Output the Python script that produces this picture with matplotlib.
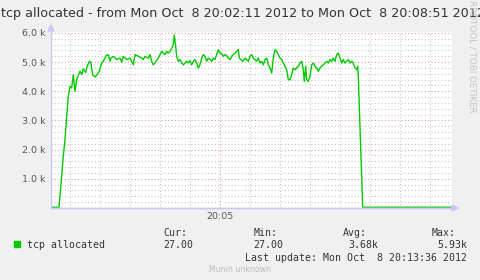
import matplotlib
matplotlib.use("Agg")
import matplotlib.pyplot as plt
from matplotlib.ticker import FixedLocator, MultipleLocator, FuncFormatter

# seconds since 20:02:11
t = [0, 8, 10.7, 12.3, 14, 15.7, 17.3, 19, 20.7, 22.3, 24, 25.7, 29, 30.7, 32.3, 34.7,
     36.3, 38.3, 39.7, 41.7, 44, 45.7, 48.3, 50.7, 52.3, 55, 57.3, 59, 60, 62.3, 65.7,
     69, 70.7, 72.3, 75.7, 79, 80.7, 82.3, 84, 87.3, 90.7, 92.3, 94, 97.3, 99, 100.7,
     102.3, 104, 107.3, 109, 110.7, 112.3, 114, 115.7, 117.3, 119, 120.7, 122.3, 123.3,
     124.7, 125.7, 127.3, 129, 130.7, 132.3, 134, 135.7, 137.3, 139, 140.7, 142.3, 144,
     145.7, 147.3, 149, 150.7, 152.3, 154, 155.7, 157.3, 159, 160.7, 162.3, 164, 165.7,
     167.3, 169, 170.7, 172.3, 174, 175.7, 177.3, 179, 180.7, 182.3, 184, 185.7, 187.3,
     188.3, 189.7, 191.7, 194, 195.7, 197.3, 199, 200.7, 202.3, 204, 205.7, 207.3, 209,
     210.7, 212.3, 214, 215.7, 217.3, 219, 220.7, 222.3, 224, 225.7, 227.3, 229, 230.7,
     232.3, 234, 235.7, 237.3, 239, 240.7, 242.3, 244, 245.7, 247.3, 249, 250.7, 252.3,
     253.3, 254.7, 255.7, 257.3, 259, 260.7, 262.3, 264, 265.7, 267.3, 269, 270.7, 272.3,
     274, 275.7, 277.3, 279, 280.7, 282.3, 284, 285.7, 287.3, 289, 290.7, 292.3, 294,
     295.7, 297.3, 299, 300.7, 302.3, 304, 305.7, 306.7, 307.3, 311.7, 400]
tcp_allocated = [27, 27, 1100, 1790, 2350, 3150, 3830, 4170, 4120, 4570, 4000, 4400, 4690,
     4570, 4770, 4650, 4860, 5030, 5000, 4570, 4490, 4550, 4690, 4970, 5030, 5220, 5260,
     5030, 5140, 5200, 5090, 5140, 5000, 5200, 5090, 5140, 5030, 4910, 5260, 5200, 5140,
     5090, 5200, 5140, 5260, 5030, 4910, 4970, 5140, 5260, 5370, 5310, 5260, 5370, 5310,
     5370, 5480, 5600, 5930, 5540, 5200, 5030, 5090, 4970, 4910, 4970, 5030, 4970, 5060,
     4910, 5030, 5090, 4970, 4800, 4910, 5140, 5260, 5200, 5030, 5140, 5090, 5030, 5140,
     5090, 5260, 5430, 5310, 5290, 5200, 5260, 5220, 5140, 5090, 5200, 5260, 5310, 5370,
     5430, 5140, 5090, 5030, 5140, 5090, 5030, 5200, 5260, 5140, 5090, 5030, 5140, 4970,
     5030, 4910, 5090, 5140, 4910, 4800, 4630, 5140, 5430, 5370, 5260, 5140, 5090, 4970,
     4860, 4740, 4400, 4400, 4570, 4800, 4740, 4800, 4860, 4970, 5030, 4740, 4340, 4860,
     4400, 4340, 4520, 4910, 4970, 4860, 4800, 4690, 4800, 4860, 4910, 4970, 5030, 4970,
     5090, 5030, 5140, 5030, 5260, 5310, 5140, 4970, 5090, 4970, 5030, 5090, 4970, 5030,
     4970, 4800, 4740, 4860, 4500, 27, 27]

xtick_pos = [169]
xtick_labels = ["20:05"]
stats_heads = ["Cur:", "Min:", "Avg:", "Max:"]
stats_vals = ["27.00", "27.00", "3.68k", "5.93k"]

W, H = 481, 280
BG = "#f0f0f0"
GREEN = "#00cc00"
AXIS = "#c8c8f4"


def fx(x):
    return x / W


def fy(y):
    return 1 - y / H


fig = plt.figure(figsize=(W / 100, H / 100), dpi=100, facecolor=BG)
ax = fig.add_axes([fx(51), fy(208), 401 / W, 176 / H])
ax.set_facecolor("white")

ax.set_xlim(0, 401)
ax.set_ylim(0, 6034)

# grid
for yv in range(200, 6001, 200):
    major = yv % 1000 == 0
    ax.axhline(yv, color="#dc9c9c" if major else "#c8c8c8", lw=0.8,
               ls=(0, (1, 2)), zorder=1)
for xv in range(19, 400, 30):
    major = xv in xtick_pos
    ax.axvline(xv, color="#dc9c9c" if major else "#c8c8c8", lw=0.8,
               ls=(0, (1, 2)), zorder=1)

ax.plot(t, tcp_allocated, color=GREEN, lw=1.0, zorder=3, solid_joinstyle="round")

for s in ["top", "right"]:
    ax.spines[s].set_visible(False)
for s in ["left", "bottom"]:
    ax.spines[s].set_color(AXIS)
    ax.spines[s].set_linewidth(1.0)
    ax.spines[s].set_zorder(4)

ax.yaxis.set_major_locator(MultipleLocator(1000))
ax.yaxis.set_major_formatter(FuncFormatter(lambda v, p: "" if v == 0 else f"{v/1000:.1f} k"))
ax.xaxis.set_major_locator(FixedLocator(xtick_pos))
ax.set_xticklabels(xtick_labels)
ax.tick_params(axis="both", length=0, labelsize=6.8, colors="#555555", pad=4)
ax.tick_params(axis="x", pad=3)

# axis arrows
fig.patches.append(plt.Polygon([[fx(48), fy(31)], [fx(54), fy(31)], [fx(51), fy(25)]],
                               closed=True, color=AXIS, transform=fig.transFigure))
fig.patches.append(plt.Polygon([[fx(452), fy(205)], [fx(452), fy(211)], [fx(458), fy(208)]],
                               closed=True, color=AXIS, transform=fig.transFigure))
fig.lines.append(plt.Line2D([fx(51), fx(453)], [fy(208), fy(208)], color=AXIS, lw=1.0,
                            transform=fig.transFigure))

fig.text(fx(1), fy(13), "tcp allocated - from Mon Oct  8 20:02:11 2012 to Mon Oct  8 20:08:51 2012",
         ha="left", va="center", fontsize=9.15, color="#333333")
fig.text(fx(472), fy(0), "RRDTOOL / TOBI OETIKER", rotation=270, ha="center", va="top",
         fontsize=6.3, color="#c4c4c4")

mono = "DejaVu Sans Mono"
fs = 7.15
fig.patches.append(plt.Rectangle((fx(14), fy(247.3)), 6 / W, 6 / H, color=GREEN,
                                 transform=fig.transFigure))
fig.text(fx(27), fy(245.3), "tcp allocated", family=mono, fontsize=fs, color="#333333",
         va="center")
head_x = [163.3, 253.3, 342.7, 431.7]
val_x = [163.3, 253.3, 378, 467.3]
for i in range(4):
    fig.text(fx(head_x[i]), fy(233.3), stats_heads[i], family=mono, fontsize=fs,
             color="#333333", va="center")
    fig.text(fx(val_x[i]), fy(245.3), stats_vals[i], family=mono, fontsize=fs,
             color="#333333", va="center", ha="left" if i < 2 else "right")
fig.text(fx(467.3), fy(257.7), "Last update: Mon Oct  8 20:13:36 2012", family=mono,
         fontsize=fs, color="#333333", va="center", ha="right")
fig.text(fx(240.5), fy(269.3), "Munin unknown", fontsize=5.6, color="#bbbbbb",
         va="center", ha="center")

fig.savefig("out.png", dpi=100, facecolor=BG)
